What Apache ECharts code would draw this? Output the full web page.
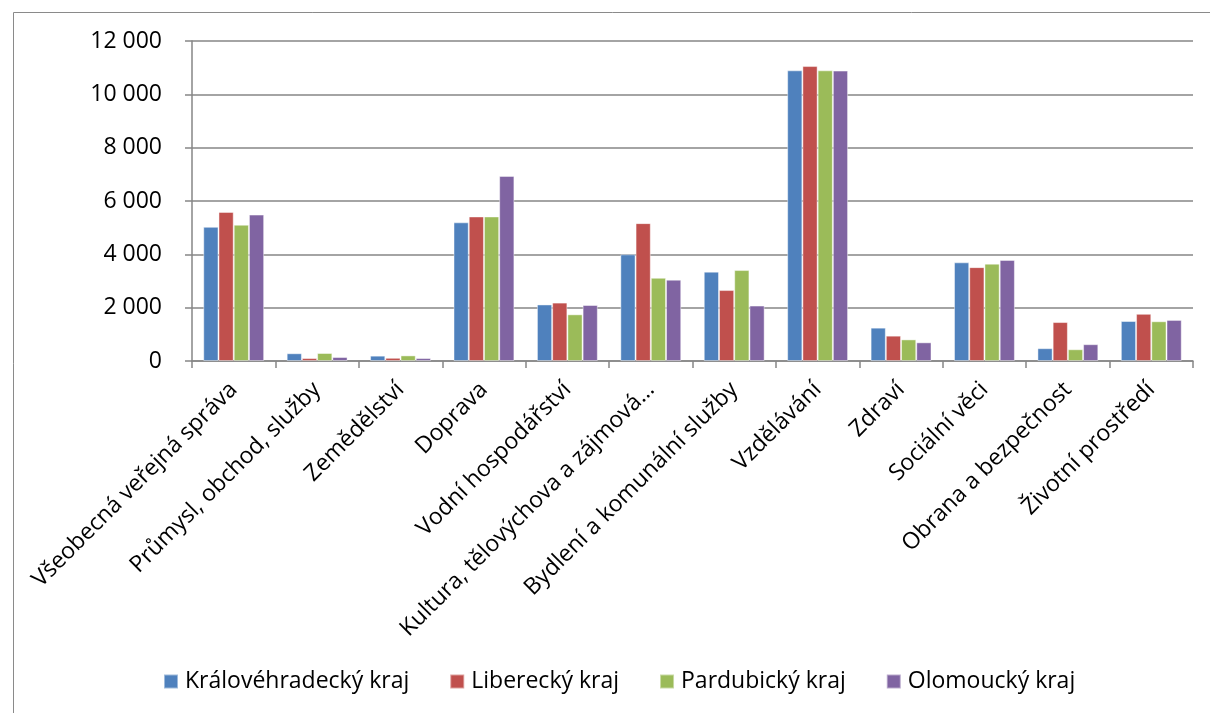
<!DOCTYPE html>
<html>
<head>
<meta charset="utf-8">
<script src="https://cdn.jsdelivr.net/npm/echarts@6/dist/echarts.min.js"></script>
<style>
html,body{margin:0;padding:0;background:#fff;}
#chart{width:1210px;height:713px;}
</style>
</head>
<body>
<div id="chart"></div>
<script>
const categories = [
  "Všeobecná veřejná správa",
  "Průmysl, obchod, služby",
  "Zemědělství",
  "Doprava",
  "Vodní hospodářství",
  "Kultura, tělovýchova a zájmová…",
  "Bydlení a komunální služby",
  "Vzdělávání",
  "Zdraví",
  "Sociální věci",
  "Obrana a bezpečnost",
  "Životní prostředí"
];
const seriesNames = ["Královéhradecký kraj", "Liberecký kraj", "Pardubický kraj", "Olomoucký kraj"];
const kralovehradecky = [5030, 290, 200, 5200, 2120, 4000, 3350, 10900, 1250, 3700, 480, 1500];
const liberecky       = [5590, 110, 120, 5420, 2190, 5170, 2660, 11060, 950, 3520, 1460, 1770];
const pardubicky      = [5110, 300, 210, 5420, 1750, 3120, 3410, 10900, 810, 3650, 440, 1490];
const olomoucky       = [5490, 150, 110, 6940, 2100, 3050, 2080, 10890, 700, 3790, 630, 1540];
const yTicks = [0, 2000, 4000, 6000, 8000, 10000, 12000];

const colors = ["#4F81BD", "#C0504D", "#9BBB59", "#8064A2"];
const FONT = "'Open Sans', sans-serif";
const allData = [kralovehradecky, liberecky, pardubicky, olomoucky];

function fmt(v) {
  return String(v).replace(/\B(?=(\d{3})+(?!\d))/g, " ");
}

const chart = echarts.init(document.getElementById('chart'));
chart.setOption({
  animation: false,
  color: colors,
  graphic: [{
    type: 'rect',
    shape: { x: 13.5, y: 12.5, width: 1400, height: 900 },
    style: { fill: 'none', stroke: '#8a8a8a', lineWidth: 1 },
    silent: true
  }],
  grid: { left: 192, right: 17, top: 41, bottom: 352, containLabel: false },
  legend: {
    top: 665,
    left: 158,
    icon: 'rect',
    itemWidth: 14,
    itemHeight: 14,
    itemGap: 40,
    textStyle: { fontFamily: FONT, fontSize: 23, color: '#000', padding: [0, 0, 0, 2] },
    data: seriesNames
  },
  xAxis: {
    type: 'category',
    data: categories,
    axisLine: { lineStyle: { color: '#868686', width: 1.5 } },
    axisTick: { show: true, length: 7, alignWithLabel: false, lineStyle: { color: '#868686', width: 1.5 } },
    axisLabel: {
      interval: 0,
      rotate: 45,
      margin: 25,
      fontFamily: FONT,
      fontSize: 23,
      color: '#000'
    }
  },
  yAxis: {
    type: 'value',
    min: yTicks[0],
    max: yTicks[yTicks.length - 1],
    interval: 2000,
    axisLine: { show: true, lineStyle: { color: '#868686', width: 1.5 } },
    axisTick: { show: true, length: 7, lineStyle: { color: '#868686', width: 1.5 } },
    splitLine: { lineStyle: { color: '#868686', width: 1.5 } },
    axisLabel: {
      margin: 30,
      fontFamily: FONT,
      fontSize: 23,
      color: '#000',
      formatter: fmt
    }
  },
  series: seriesNames.map((name, i) => ({
    name: name,
    type: 'bar',
    data: allData[i],
    barGap: '0%',
    barCategoryGap: '27%',
    itemStyle: { color: colors[i], borderColor: 'rgba(255,255,255,0.45)', borderWidth: 1 }
  }))
});
</script>
</body>
</html>
